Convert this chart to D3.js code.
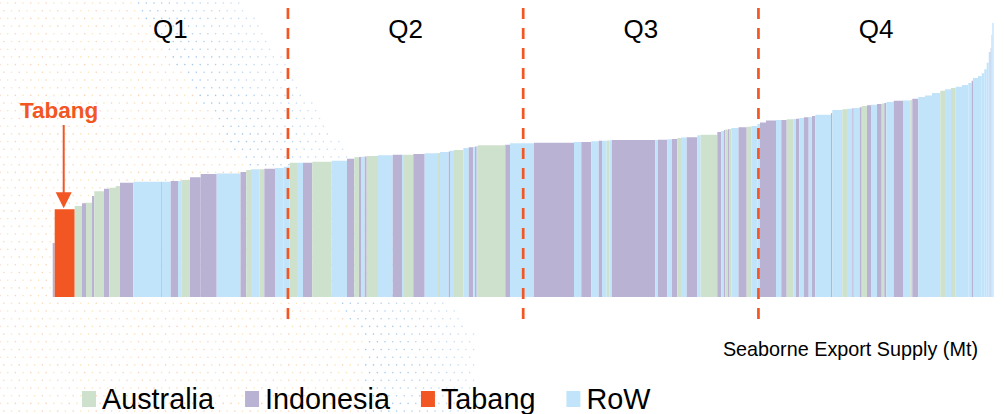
<!DOCTYPE html>
<html>
<head>
<meta charset="utf-8">
<script src="https://cdn.jsdelivr.net/npm/d3@7"></script>
<style>
  body { margin: 0; background: #fff; }
  svg { display: block; font-family: "Liberation Sans", Arial, sans-serif; }
</style>
</head>
<body>
<svg id="svg1"></svg>
<script>
// A = Australia, I = Indonesia, T = Tabang, R = RoW
const country = [
  "I","T","A","I","A","I","A","I","A","A","I","R","I","R","I","R","A","I","I","R",
  "I","A","R","A","I","R","R","A","R","I","A","R","I","A","I","R","I","A","R","I",
  "R","A","I","R","A","R","I","R","A","R","I","R","I","R","A","I","R","I","R","I",
  "R","I","R","A","R","I","R","I","R","I","A","R","I","R","A","I","R","I","A","I",
  "A","R","I","A","R","R","I","I","R","I","A","R","I","R","I","R","I","R","I","R",
  "A","R","I","R","I","A","I","R","I","A","I","R","I","R","A","I","R","R","R","A",
  "R","A","R","R","R","I","R","R","R","R","R","R","I","R","R"
];
// seaborne export supply per mine (Mt)
const supply = [
  2.0, 20.0, 7.3, 4.0, 6.0, 2.3, 9.7, 5.3, 6.7, 4.0, 13.3, 28.0, 0.7, 8.7, 7.3, 3.3, 8.7, 10.7, 16.0, 23.8,
  5.8, 4.7, 8.7, 4.6, 10.7, 8.7, 6.0, 7.3, 6.0, 9.3, 19.4, 15.3, 7.3, 4.7, 2.0, 3.7, 2.0, 11.3, 14.7, 9.3,
  2.0, 9.3, 11.4, 13.3, 2.0, 8.7, 1.3, 4.0, 9.3, 5.4, 4.6, 1.7, 1.7, 1.3, 27.3, 4.7, 24.0, 40.0, 7.3, 10.0,
  7.4, 3.3, 4.7, 2.6, 2.7, 43.3, 2.7, 9.3, 4.7, 5.3, 3.7, 5.7, 10.6, 3.4, 16.6, 4.0, 2.7, 1.3, 2.7, 1.0,
  2.3, 7.2, 8.2, 4.6, 6.0, 2.7, 6.0, 10.0, 5.3, 5.4, 6.6, 2.7, 3.3, 4.7, 4.7, 3.3, 3.3, 15.7, 1.3, 10.0,
  4.7, 5.3, 1.4, 6.0, 2.0, 5.3, 4.0, 6.0, 4.7, 2.6, 2.0, 7.4, 9.3, 7.3, 2.0, 6.0, 6.7, 7.0, 8.3, 4.7,
  6.0, 4.7, 6.3, 6.3, 3.4, 1.3, 5.0, 3.7, 2.6, 2.4, 2.0, 2.0, 0.6, 1.0, 1.4
];
// cash cost (US$/t)
const cost = [
  21.6, 35.1, 36.4, 37.5, 37.7, 40.4, 42.3, 43.3, 43.7, 44.4, 45.7, 46.1, 46.1, 46.1, 46.4, 46.4, 46.8, 47.9, 49.2, 49.4,
  50.0, 50.8, 51.1, 51.1, 51.3, 51.6, 52.1, 53.7, 53.7, 53.7, 54.1, 54.5, 55.3, 55.9, 56.0, 56.1, 56.2, 56.4, 56.7, 56.9,
  56.9, 56.9, 57.2, 57.5, 57.6, 58.0, 58.2, 58.5, 58.8, 59.6, 59.9, 60.0, 60.2, 60.4, 60.7, 60.9, 61.5, 61.7, 62.0, 62.0,
  62.3, 62.5, 62.5, 62.6, 62.7, 62.8, 62.8, 62.9, 63.1, 63.2, 63.6, 63.8, 63.9, 64.7, 64.9, 66.0, 66.4, 66.8, 67.0, 67.1,
  67.2, 67.6, 67.9, 68.1, 68.4, 69.2, 69.8, 70.6, 70.8, 70.8, 71.1, 71.2, 71.3, 71.6, 71.9, 72.0, 72.4, 72.9, 73.6, 74.8,
  75.1, 75.3, 75.5, 75.6, 75.9, 76.4, 76.7, 76.9, 77.2, 77.4, 77.6, 78.0, 78.5, 78.6, 78.8, 79.3, 80.0, 80.6, 81.6, 82.5,
  83.1, 83.6, 84.1, 84.8, 85.6, 86.5, 87.6, 88.4, 89.5, 91.1, 93.7, 98.0, 99.6, 104.9, 109.6
];
const quarterLabels = ["Q1", "Q2", "Q3", "Q4"];
const legendKeys = ["A", "I", "T", "R"];
const legendNames = ["Australia", "Indonesia", "Tabang", "RoW"];
const xTitle = "Seaborne Export Supply (Mt)";

const colors = {A: "#cde1cc", I: "#b9b2d3", T: "#f25623", R: "#c2e4fb"};
const accent = "#f25623";

const width = 1004;
const height = 414;

const svg = d3.select("#svg1")
    .attr("width", width)
    .attr("height", height);

// build bars with cumulative supply
let run = 0;
const bars = supply.map(function(s, i) {
  const b = {x0: run, x1: run + s, cost: cost[i], c: country[i]};
  run += s;
  return b;
});
const total = run;

const x = d3.scaleLinear().domain([0, total]).range([52.7, 993.7]);
const y = d3.scaleLinear().domain([0, 110]).range([297, 22]);

// faint dotted backdrop on the left
const dots = svg.append("g");
const step = 7.7;
d3.range(0, height, step).forEach(function(py, r) {
  const edge = py < 330 ? 245 + 0.68 * py : 475;
  d3.range((r % 2) * step / 2, edge, step).forEach(function(px) {
    const d = edge - px;
    dots.append("circle")
        .attr("cx", px)
        .attr("cy", py + 3)
        .attr("r", 0.8)
        .attr("fill", d < 110 ? "#6fa8dc" : (px % 3 < 1.5 ? "#f4b183" : "#f7d27a"))
        .attr("opacity", d < 110 ? 0.35 + 0.3 * (d / 110) : 0.55);
  });
});

// bars
svg.append("g")
  .selectAll("rect")
  .data(bars)
  .enter()
  .append("rect")
    .attr("x", function(d) { return x(d.x0); })
    .attr("y", function(d) { return y(d.cost); })
    .attr("width", function(d) { return x(d.x1) - x(d.x0); })
    .attr("height", function(d) { return y(0) - y(d.cost); })
    .attr("fill", function(d) { return colors[d.c]; });

// quartile dividers
const qx = [0.25, 0.5, 0.75].map(function(f) { return x(total * f); });
svg.append("g")
  .selectAll("line")
  .data(qx)
  .enter()
  .append("line")
    .attr("x1", function(d) { return d; })
    .attr("x2", function(d) { return d; })
    .attr("y1", 8)
    .attr("y2", 321)
    .attr("stroke", accent)
    .attr("stroke-width", 2.7)
    .attr("stroke-dasharray", "11,9");

// quartile labels
const qEdges = [x(0)].concat(qx, [x(total)]);
svg.append("g")
  .selectAll("text")
  .data(quarterLabels)
  .enter()
  .append("text")
    .attr("x", function(d, i) { return (qEdges[i] + qEdges[i + 1]) / 2; })
    .attr("y", 38)
    .attr("text-anchor", "middle")
    .attr("font-size", 26)
    .attr("fill", "#000")
    .text(function(d) { return d; });

// Tabang annotation
const tab = bars.find(function(d) { return d.c === "T"; });
const tx = (x(tab.x0) + x(tab.x1)) / 2 - 1;
svg.append("text")
    .attr("x", 20)
    .attr("y", 118)
    .attr("font-size", 22.5)
    .attr("font-weight", "bold")
    .attr("fill", accent)
    .text("Tabang");
svg.append("line")
    .attr("x1", tx).attr("x2", tx)
    .attr("y1", 125).attr("y2", y(tab.cost) - 16)
    .attr("stroke", accent)
    .attr("stroke-width", 2);
svg.append("path")
    .attr("d", "M" + (tx - 8) + "," + (y(tab.cost) - 17) + "L" + (tx + 8) + "," + (y(tab.cost) - 17) + "L" + tx + "," + (y(tab.cost) - 1) + "Z")
    .attr("fill", accent);

// axis title
svg.append("text")
    .attr("x", 978)
    .attr("y", 356)
    .attr("text-anchor", "end")
    .attr("font-size", 19.8)
    .attr("fill", "#000")
    .text(xTitle);

// legend
const legend = svg.append("g");
let lx = 82;
legendKeys.forEach(function(k, i) {
  legend.append("rect")
      .attr("x", lx)
      .attr("y", 391)
      .attr("width", 14)
      .attr("height", 16)
      .attr("fill", colors[k]);
  const t = legend.append("text")
      .attr("x", lx + 20)
      .attr("y", 409)
      .attr("font-size", 28.8)
      .attr("fill", "#000")
      .text(legendNames[i]);
  lx += 20 + t.node().getComputedTextLength() + 31;
});
</script>
</body>
</html>
